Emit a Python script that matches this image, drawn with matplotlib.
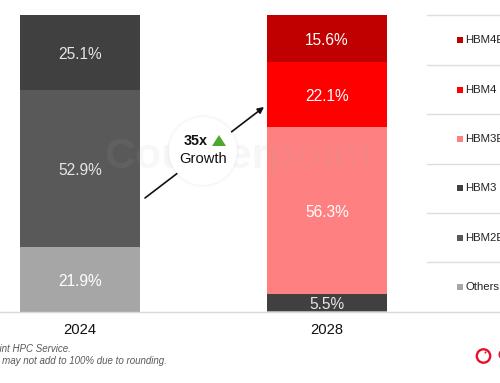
import matplotlib
matplotlib.use('Agg')
import matplotlib.pyplot as plt
from matplotlib.patches import Circle, Rectangle

plt.rcParams['font.family'] = ['Liberation Sans', 'DejaVu Sans']

years = ['2024', '2028']
series = ['Others', 'HBM2E', 'HBM3', 'HBM3E', 'HBM4', 'HBM4E']
values_2024 = [21.9, 52.9, 25.1, 0, 0, 0]
values_2028 = [0.4, 0, 5.5, 56.3, 22.1, 15.6]
colors = ['#a6a6a6', '#595959', '#404040', '#ff8080', '#ff0000', '#c00000']
label_colors = ['white', '#e6e6e6', '#e6e6e6', 'white', 'white', 'white']
legend_order = ['HBM4E', 'HBM4', 'HBM3E', 'HBM3', 'HBM2E', 'Others']

W, H = 500, 383
fig = plt.figure(figsize=(W / 100, H / 100), dpi=100)

# bars axes, limits chosen so the bars land on the same pixels as the reference
ax = fig.add_axes([0, 0, 1, 1])
ax.set_xlim(-80 / 247, (W - 80) / 247)
ax.set_ylim(-(H - 312) * 100 / 297, 312 * 100 / 297)
ax.axis('off')

for col, vals in enumerate([values_2024, values_2028]):
    bottom = 0
    for i, v in enumerate(vals):
        if v > 0:
            ax.bar(col, v, bottom=bottom, width=120 / 247, color=colors[i], zorder=2)
            if v > 1:
                # small nudge down, text centre sits a bit high otherwise
                ax.text(col, bottom + v / 2 - 0.6, f'{v}%', color=label_colors[i], fontsize=11.2,
                        ha='center', va='center', zorder=3)
        bottom += v

# overlay in pixel coordinates for the decorations
ov = fig.add_axes([0, 0, 1, 1], facecolor='none')
ov.set_xlim(0, W)
ov.set_ylim(H, 0)
ov.axis('off')

# watermark
ov.text(104, 157, 'Counterpoint', fontsize=31, fontweight='bold', color='#aaaaaa',
        alpha=0.09, ha='left', va='center', zorder=5)

ov.plot([0, W], [312, 312], color='#d9d9d9', lw=1, zorder=1)

for yr, cx in zip(years, [80, 327]):
    ov.text(cx, 330.5, yr, fontsize=10.6, color='#111111', ha='center', va='center')

# legend table
for y in [15, 65, 114, 164, 213, 262]:
    ov.plot([427, W], [y, y], color='#dedede', lw=1)
for name, y in zip(legend_order, [40, 90, 139, 188, 238, 287]):
    ov.add_patch(Rectangle((456.5, y - 3), 6, 6, color=colors[series.index(name)], lw=0))
    ov.text(465, y, name, fontsize=8.2, color='#222222', ha='left', va='center')

# growth arrow + bubble
ov.annotate('', xy=(264, 107), xytext=(145, 198),
            arrowprops=dict(arrowstyle='-|>', color='#111111', lw=1.2, mutation_scale=9,
                            shrinkA=0, shrinkB=0), zorder=6)
for r, a in [(37, 0.008), (36, 0.012), (35, 0.02)]:
    ov.add_patch(Circle((203, 151), r, color='#000000', alpha=a, lw=0, zorder=7))
ov.add_patch(Circle((203, 151), 34, color='white', lw=0, zorder=8))
ov.text(195.5, 141, '35x', fontsize=10.4, fontweight='bold', color='#111111',
        ha='center', va='center', zorder=9)
ov.fill([212, 226, 219], [146, 146, 135], color='#4ea72e', lw=0, zorder=9)
ov.text(203, 159, 'Growth', fontsize=10.6, color='#111111', ha='center', va='center', zorder=9)

# footnotes run off the left edge like in the source crop
ov.text(71, 349, 'Source: Counterpoint HPC Service.', fontsize=7, style='italic',
        color='#595959', ha='right', va='center')
ov.text(167, 360.5, 'Note: Figures may not add to 100% due to rounding.', fontsize=7,
        style='italic', color='#595959', ha='right', va='center')

# logo, cropped on the right
ov.add_patch(Circle((483.5, 356), 6.7, fill=False, ec='#e8112d', lw=1.7))
ov.add_patch(Circle((485.5, 352.5), 1, color='#e8112d', lw=0))
ov.text(497, 356, 'C', fontsize=9, fontweight='bold', color='#e8112d', ha='left', va='center')

fig.savefig('out.png', dpi=100)
